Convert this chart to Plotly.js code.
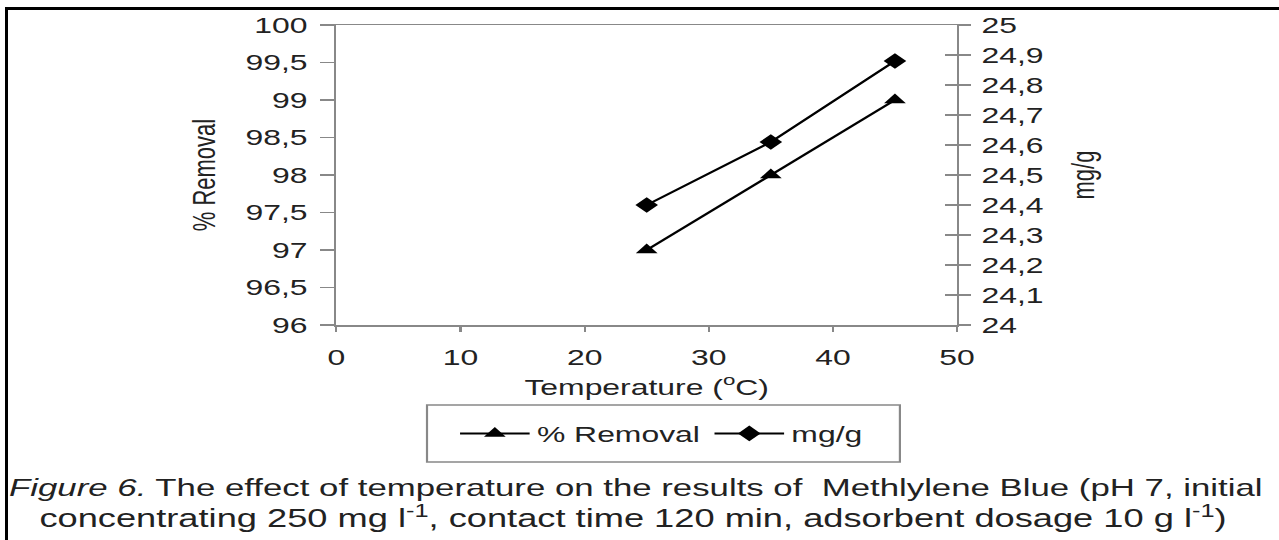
<!DOCTYPE html>
<html><head><meta charset="utf-8">
<script src="https://cdn.plot.ly/plotly-3.0.1.min.js"></script>
<style>
html,body{margin:0;padding:0;width:1279px;height:540px;overflow:hidden;background:#fff;}
#chart{position:absolute;left:0;top:0;width:882px;height:540px;transform:scaleX(1.45);transform-origin:0 0;}
#frame{position:absolute;left:5px;top:7px;width:1320px;height:620px;border-left:3px solid #000;border-top:3px solid #000;box-sizing:border-box;pointer-events:none;}
</style></head><body>
<div id="chart"></div><div id="frame"></div>
<script>
const temperature = [25, 35, 45];
const removalPct = [97, 98, 99];
const mgPerG = [24.4, 24.61, 24.88];
const seriesNames = ['% Removal', 'mg/g'];
const captionLine1 = '<i>Figure 6.</i> The effect of temperature on the results of  Methlylene Blue (pH 7, initial';
const captionLine2 = 'concentrating 250 mg l<sup>-1</sup>, contact time 120 min, adsorbent dosage 10 g l<sup>-1</sup>)';

const F = 'Liberation Sans, Arial, sans-serif';
const TXT = '#222';
const AX = '#888';

const traces = [
  {x: temperature, y: removalPct, name: seriesNames[0], type: 'scatter', mode: 'lines+markers',
   line: {color: '#000', width: 2}, marker: {symbol: 'triangle-up', size: 13, color: '#000'}, yaxis: 'y'},
  {x: temperature, y: mgPerG, name: seriesNames[1], type: 'scatter', mode: 'lines+markers',
   line: {color: '#000', width: 2}, marker: {symbol: 'diamond', size: 12, color: '#000'}, yaxis: 'y2'},
  {x: temperature, y: mgPerG, mode: 'none', yaxis: 'y3', showlegend: false, hoverinfo: 'skip'}
];

const layout = {
  width: 882, height: 540,
  margin: {l: 232, r: 222, t: 25, b: 215},
  paper_bgcolor: '#fff', plot_bgcolor: '#fff',
  separators: ',.',
  font: {family: F, size: 22, color: TXT},
  showlegend: true,
  xaxis: {
    range: [0, 50], dtick: 10, tick0: 0, showgrid: false, zeroline: false,
    showline: true, linecolor: AX, linewidth: 1.5, mirror: true,
    ticks: 'outside', ticklen: 5, tickcolor: AX, tickwidth: 1.5, ticklabelstandoff: 7,
    tickfont: {family: F, size: 22, color: TXT},
    title: {text: 'Temperature (<sup>o</sup>C)', font: {family: F, size: 22, color: TXT}, standoff: 10}
  },
  yaxis: {
    range: [96, 100], dtick: 0.5, tick0: 96, showgrid: false, zeroline: false,
    showline: true, linecolor: AX, linewidth: 1.5,
    ticks: 'outside', ticklen: 10, tickcolor: AX, tickwidth: 1.5, ticklabelstandoff: 4,
    tickfont: {family: F, size: 22, color: TXT},
    title: {text: '% Removal', font: {family: F, size: 22, color: TXT}, standoff: 14}
  },
  yaxis2: {
    overlaying: 'y', side: 'right', range: [24, 25], dtick: 0.1, tick0: 24,
    showgrid: false, zeroline: false, showline: true, linecolor: AX, linewidth: 1.5,
    ticks: 'outside', ticklen: 8, tickcolor: AX, tickwidth: 1.5, ticklabelstandoff: 3,
    tickfont: {family: F, size: 22, color: TXT},
    title: {text: 'mg/g', font: {family: F, size: 22, color: TXT}, standoff: 20}
  },
  yaxis3: {
    overlaying: 'y', side: 'right', range: [24, 25], dtick: 0.1, tick0: 24,
    showgrid: false, zeroline: false, showline: false, showticklabels: false,
    ticks: 'inside', ticklen: 8, tickcolor: AX, tickwidth: 1.5
  },
  legend: {
    orientation: 'h', x: 0.524, xanchor: 'center', y: -0.362, yanchor: 'middle',
    font: {family: F, size: 22, color: TXT}, bgcolor: 'rgba(0,0,0,0)', borderwidth: 0,
    itemwidth: 48
  },
  shapes: [
    {type: 'rect', xref: 'paper', yref: 'paper', x0: 0.146, x1: 0.908, y0: -0.457, y1: -0.267,
     line: {color: AX, width: 1.5}, fillcolor: 'rgba(0,0,0,0)'}
  ],
  annotations: [
    {xref: 'paper', yref: 'paper', x: -0.532, y: -0.543, xanchor: 'left', yanchor: 'middle',
     text: captionLine1, showarrow: false, font: {family: F, size: 24, color: TXT}},
    {xref: 'paper', yref: 'paper', x: 0.477, y: -0.64, xanchor: 'center', yanchor: 'middle',
     text: captionLine2, showarrow: false, font: {family: F, size: 25, color: TXT}}
  ]
};

Plotly.newPlot('chart', traces, layout, {displayModeBar: false, staticPlot: true});
</script>
</body></html>
